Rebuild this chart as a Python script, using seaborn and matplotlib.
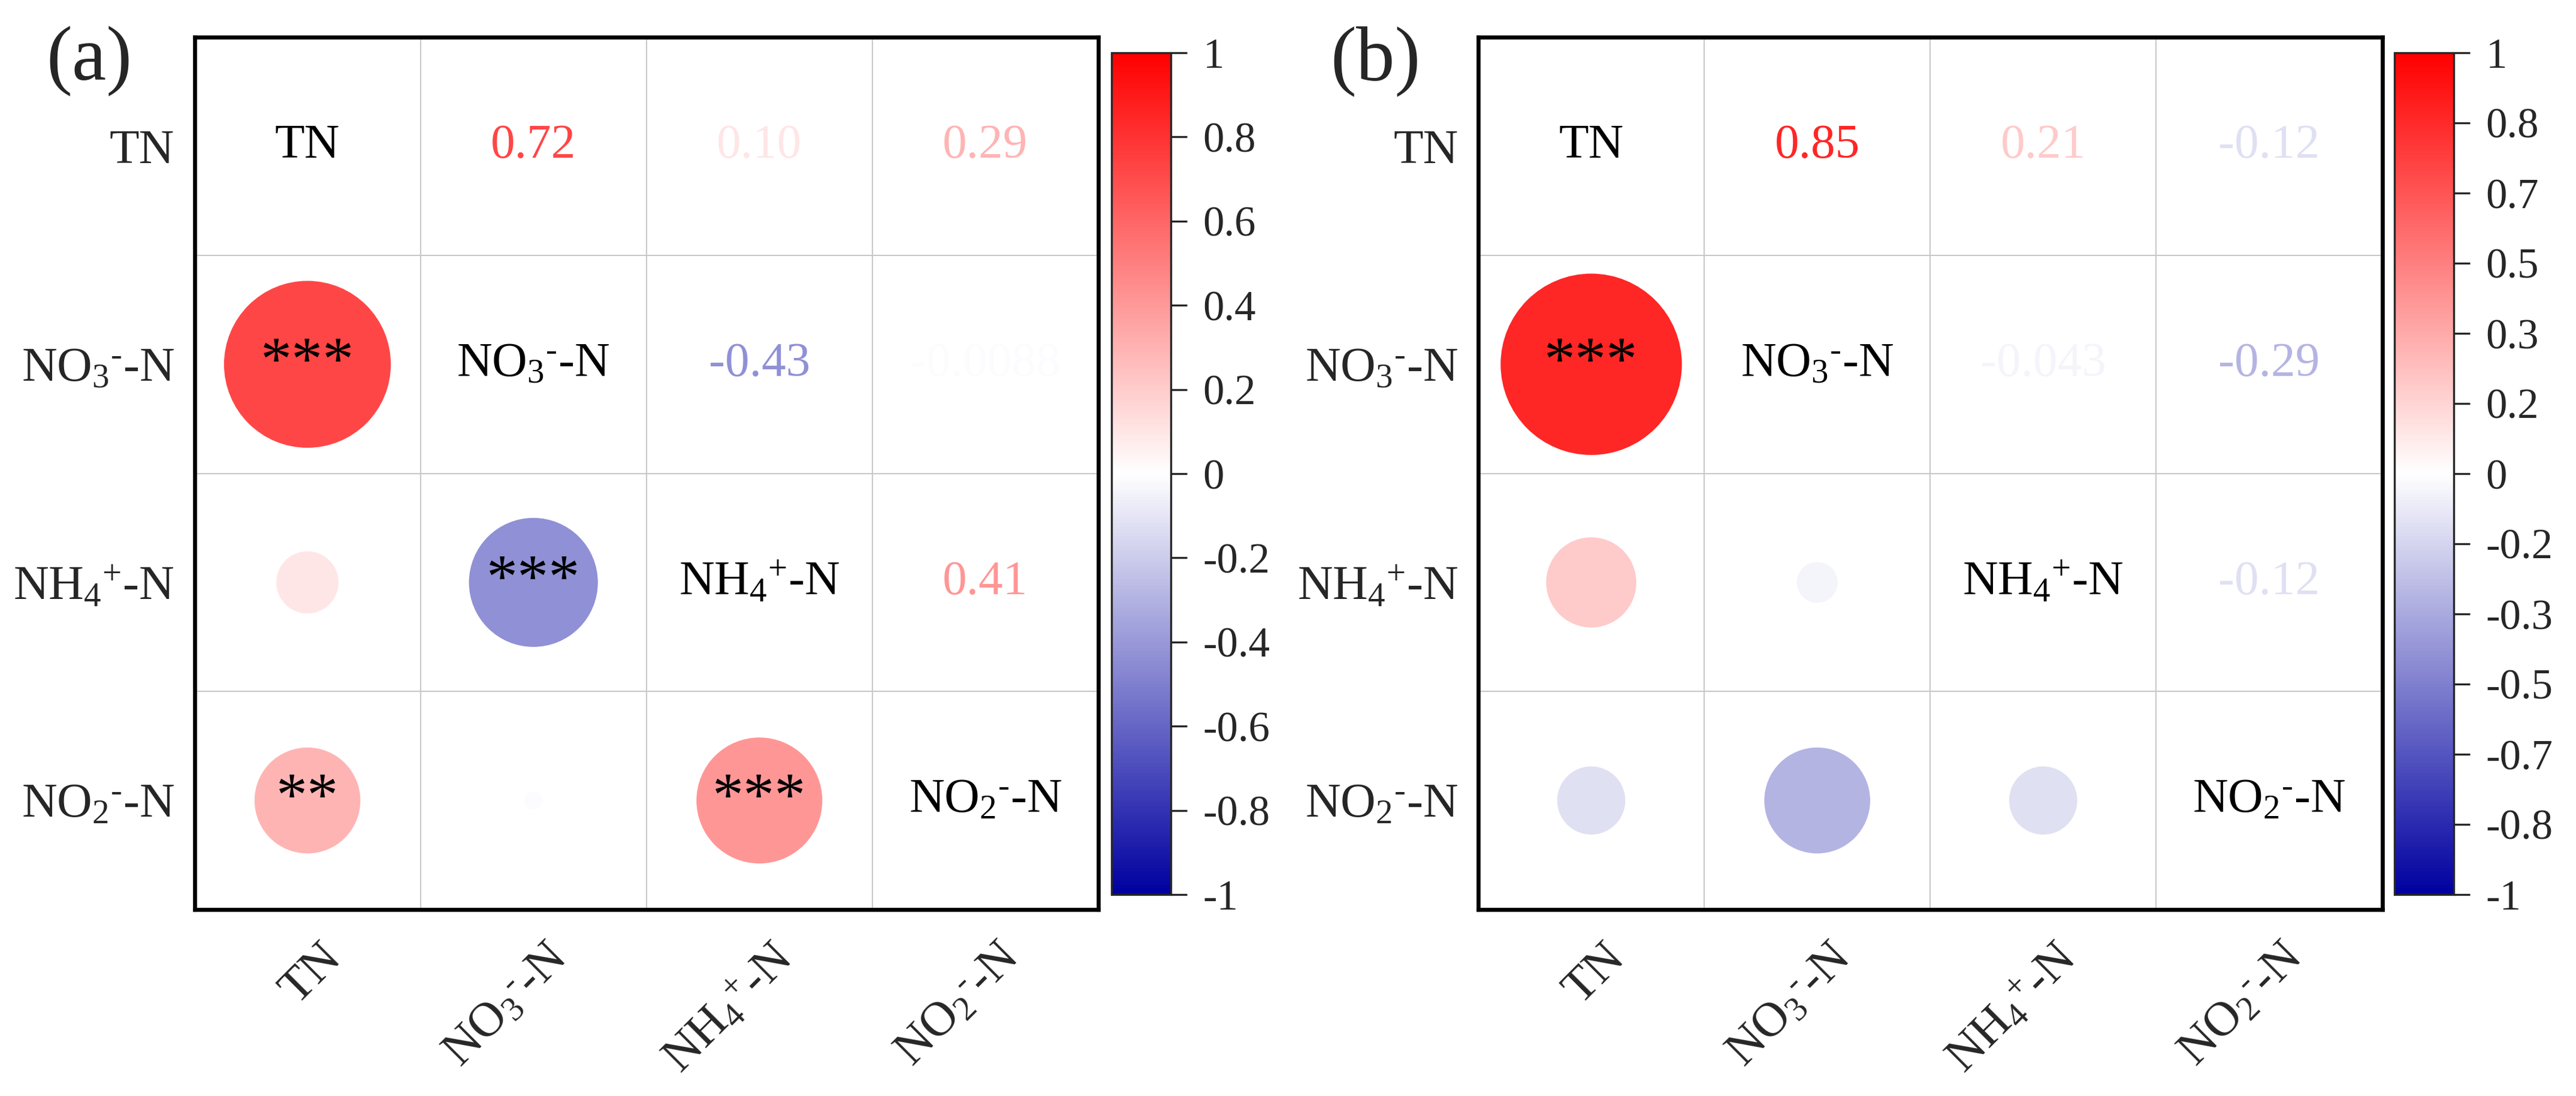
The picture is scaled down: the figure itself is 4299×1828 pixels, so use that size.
import numpy as np
import pandas as pd
import seaborn as sns
import matplotlib.pyplot as plt
from matplotlib.colors import LinearSegmentedColormap, Normalize
from matplotlib.cm import ScalarMappable

sns.set_style('white')
plt.rcParams['font.family'] = ['Liberation Serif', 'DejaVu Serif']
plt.rcParams['mathtext.fontset'] = 'custom'
plt.rcParams['mathtext.rm'] = 'Liberation Serif'
plt.rcParams['mathtext.it'] = 'Liberation Serif:italic'
plt.rcParams['mathtext.default'] = 'regular'
plt.rcParams['axes.unicode_minus'] = False

# variable names
names = ['TN', r'NO$_3{}^{\text{-}}$-N', r'NH$_4{}^{+}$-N', r'NO$_2{}^{\text{-}}$-N']

# correlation coefficients, panel (a)
r_a = [[1.00, 0.72, 0.10, 0.29],
       [0.72, 1.00, -0.43, -0.0088],
       [0.10, -0.43, 1.00, 0.41],
       [0.29, -0.0088, 0.41, 1.00]]
sig_a = [['', '', '', ''],
         ['***', '', '', ''],
         ['', '***', '', ''],
         ['**', '', '***', '']]

# correlation coefficients, panel (b)
r_b = [[1.00, 0.85, 0.21, -0.12],
       [0.85, 1.00, -0.043, -0.29],
       [0.21, -0.043, 1.00, -0.12],
       [-0.12, -0.29, -0.12, 1.00]]
sig_b = [['', '', '', ''],
         ['***', '', '', ''],
         ['', '', '', ''],
         ['', '', '', '']]

cbar_ticks_a = [1, 0.8, 0.6, 0.4, 0.2, 0, -0.2, -0.4, -0.6, -0.8, -1]
cbar_labels_a = ['1', '0.8', '0.6', '0.4', '0.2', '0', '-0.2', '-0.4', '-0.6', '-0.8', '-1']
cbar_labels_b = ['1', '0.8', '0.7', '0.5', '0.3', '0.2', '0', '-0.2', '-0.3', '-0.5', '-0.7', '-0.8', '-1']
cbar_ticks_b = np.linspace(1, -1, len(cbar_labels_b))

cmap = LinearSegmentedColormap.from_list('bwr_corr', ['#0000A0', '#FFFFFF', '#FF0000'])
norm = Normalize(-1, 1)

W, H = 4299, 1828
fig = plt.figure(figsize=(W / 300, H / 300), dpi=300)


def corr_panel(ax, cax, r, sig, letter, ticks, labels):
    n = len(names)
    rows = []
    for i in range(n):
        for j in range(i):
            rows.append({'x': j, 'y': i, 'r': r[i][j], 'absr': abs(r[i][j])})
    df = pd.DataFrame(rows)

    sns.scatterplot(data=df, x='x', y='y', hue='r', palette=cmap, hue_norm=(-1, 1),
                    size='absr', sizes=(0, 6200), size_norm=(0, 1),
                    linewidth=0, legend=False, ax=ax, zorder=3)

    for i in range(n):
        for j in range(n):
            if i == j:
                ax.text(j, i, names[i], ha='center', va='center', fontsize=19.5, color='black')
            elif j > i:
                ax.text(j, i, '{:#.2g}'.format(r[i][j]), ha='center', va='center',
                        fontsize=19.5, color=cmap(norm(r[i][j])))
            elif sig[i][j]:
                ax.text(j, i, sig[i][j], ha='center', va='center', fontsize=25,
                        color='black', zorder=4)

    ax.set_xlim(-0.5, n - 0.5)
    ax.set_ylim(n - 0.5, -0.5)
    ax.set_xticks(range(n))
    ax.set_yticks(range(n))
    ax.set_xticklabels([])
    ax.set_yticklabels(names, fontsize=19.5)
    # rotated column labels, shifted right of the column centre like the original
    for j, name in enumerate(names):
        ax.annotate(name, xy=(j, 0), xycoords=('data', 'axes fraction'),
                    xytext=(17, -10.5), textcoords='offset points',
                    rotation=45, ha='right', va='top', fontsize=19.5)
    ax.tick_params(axis='both', length=0)
    ax.tick_params(axis='y', pad=8)
    ax.set_xlabel('')
    ax.set_ylabel('')
    ax.set_xticks(np.arange(0.5, n - 1), minor=True)
    ax.set_yticks(np.arange(0.5, n - 1), minor=True)
    ax.tick_params(which='minor', length=0)
    ax.grid(which='minor', color='#C8C8C8', linewidth=0.5)
    ax.grid(which='major', visible=False)
    for s in ax.spines.values():
        s.set_visible(True)
        s.set_color('black')
        s.set_linewidth(1.6)

    cb = fig.colorbar(ScalarMappable(norm=norm, cmap=cmap), cax=cax)
    cb.set_ticks(ticks)
    cb.set_ticklabels(labels)
    cb.outline.set_linewidth(0.8)
    cax.tick_params(length=6.5, width=0.8, pad=6.5, labelsize=17, direction='out')

    pos = ax.get_position()
    fig.text(pos.x0 - 247 / W, 1 - 133 / H, letter, fontsize=31, ha='left', va='baseline')


ax_a = fig.add_axes([324.5 / W, 1 - 1517 / H, 1508.5 / W, 1455 / H])
cax_a = fig.add_axes([1854.5 / W, 1 - 1492 / H, 99 / W, 1404 / H])
ax_b = fig.add_axes([2467 / W, 1 - 1517 / H, 1508.5 / W, 1455 / H])
cax_b = fig.add_axes([3995.5 / W, 1 - 1492 / H, 99 / W, 1404 / H])

corr_panel(ax_a, cax_a, r_a, sig_a, '(a)', cbar_ticks_a, cbar_labels_a)
corr_panel(ax_b, cax_b, r_b, sig_b, '(b)', cbar_ticks_b, cbar_labels_b)

fig.savefig('out.png', dpi=300)
